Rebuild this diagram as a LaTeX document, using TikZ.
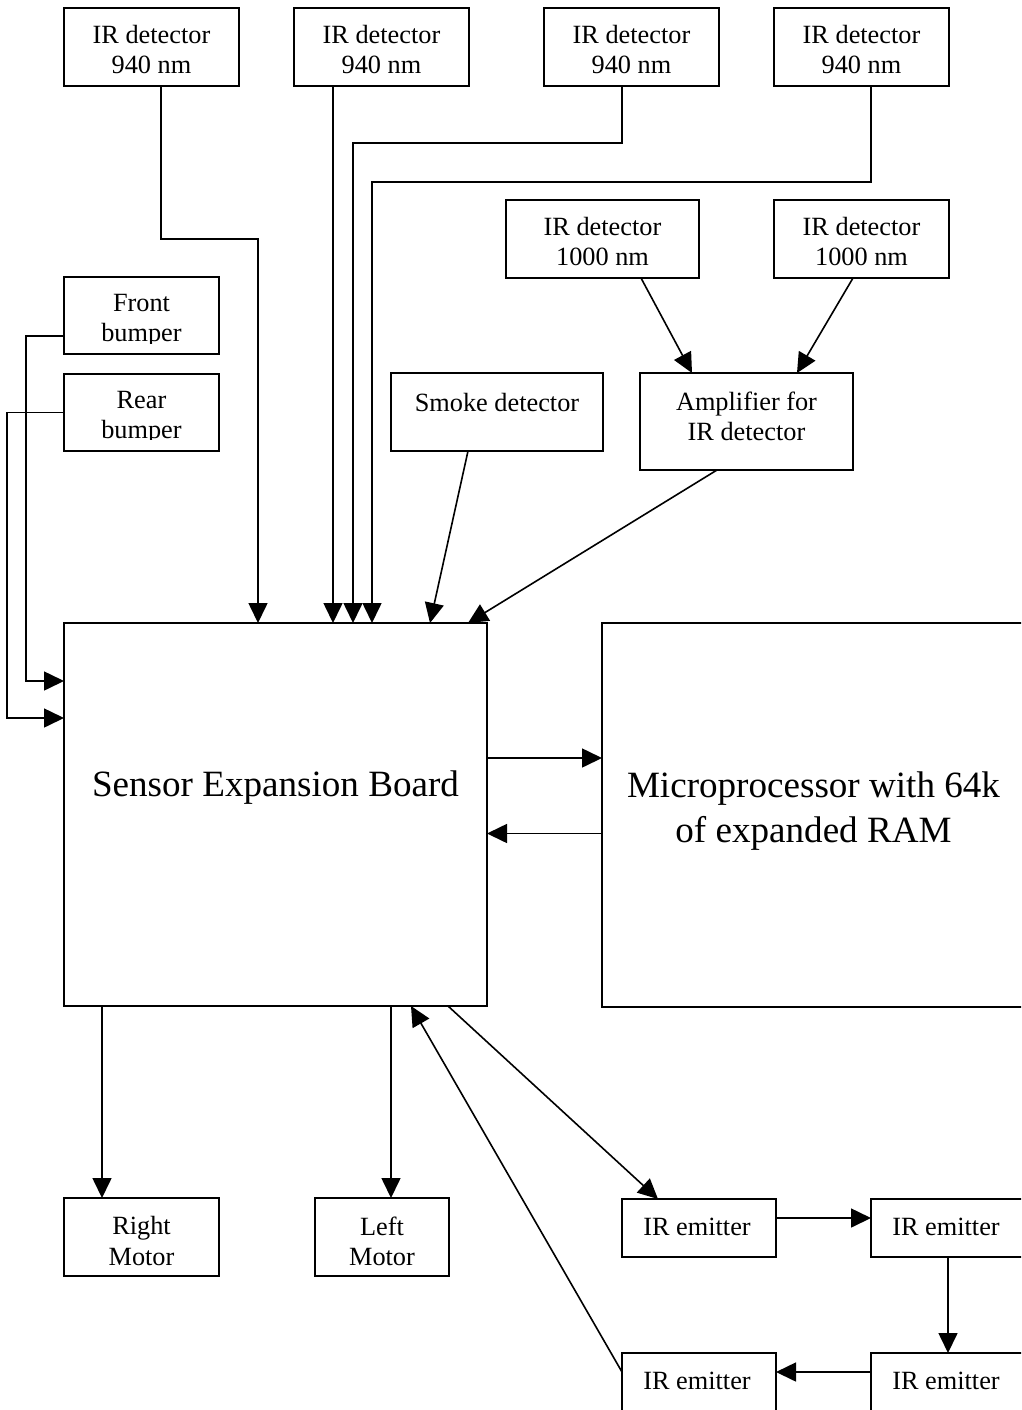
\documentclass[tikz,border=0pt]{standalone}
\usepackage{fontspec}
\setmainfont{Liberation Serif}
\usetikzlibrary{arrows.meta,calc}
\tikzset{
  box/.style={draw, line width=1.6pt, inner sep=0pt, outer sep=0pt, anchor=center},
  txt/.style={align=center, inner sep=0pt, outer sep=0pt, font=\fontsize{26.3}{30.2}\selectfont},
  bigtxt/.style={align=center, inner sep=0pt, outer sep=0pt, font=\fontsize{37.1}{45}\selectfont},
  arr/.style={line width=1.6pt, -{Triangle[length=20pt,width=19pt]}},
}
\begin{document}
\begin{tikzpicture}[x=1pt,y=-1pt]
\clip (0,0) rectangle (1021,1410);
\fill[white] (0,0) rectangle (1021,1410);
% top row IR detectors 940 nm
\node[box, minimum width=175pt, minimum height=78pt] (d1) at (151.5,47) {};
\node[box, minimum width=175pt, minimum height=78pt] (d2) at (381.5,47) {};
\node[box, minimum width=175pt, minimum height=78pt] (d3) at (631.5,47) {};
\node[box, minimum width=175pt, minimum height=78pt] (d4) at (861.5,47) {};
\node[txt] (d1t) at (151.5,49.5) {IR detector\\940 nm};
\node[txt] (d2t) at (381.5,49.5) {IR detector\\940 nm};
\node[txt] (d3t) at (631.5,49.5) {IR detector\\940 nm};
\node[txt] (d4t) at (861.5,49.5) {IR detector\\940 nm};
% IR detectors 1000 nm
\node[box, minimum width=193pt, minimum height=78pt] (da) at (602.5,239) {};
\node[box, minimum width=175pt, minimum height=78pt] (db) at (861.5,239) {};
\node[txt] (dat) at (602.5,241.5) {IR detector\\1000 nm};
\node[txt] (dbt) at (861.5,241.5) {IR detector\\1000 nm};
% bumpers
\node[box, minimum width=155pt, minimum height=77pt] (fb) at (141.5,315.5) {};
\node[box, minimum width=155pt, minimum height=77pt] (rb) at (141.5,412.5) {};
\begin{scope}
\clip (64,277) rectangle (219,343);
\node[txt] (fbt) at (141.5,321) {Front\\bumper};
\end{scope}
\begin{scope}
\clip (64,374) rectangle (219,439.5);
\node[txt] (rbt) at (141.5,418) {Rear\\bumper};
\end{scope}
% smoke and amplifier
\node[box, minimum width=212pt, minimum height=78pt] (sm) at (497,412) {};
\node[txt] (smt) at (497,402) {Smoke detector};
\node[box, minimum width=213pt, minimum height=97pt] (am) at (746.5,421.5) {};
\node[txt] (amt) at (746.5,416) {Amplifier for\\IR detector};
% board and microprocessor
\node[box, minimum width=423pt, minimum height=383pt] (sb) at (275.5,814.5) {};
\node[bigtxt] (sbt) at (275.5,788) {Sensor Expansion Board};
\node[box, minimum width=423pt, minimum height=384pt] (mp) at (813.5,815) {};
\node[bigtxt] (mpt) at (813.5,811) {Microprocessor with 64k\\of expanded RAM};
% motors
\node[box, minimum width=155pt, minimum height=78pt] (rm) at (141.5,1237) {};
\node[txt] (rmt) at (141.5,1241) {Right\\Motor};
\node[box, minimum width=134pt, minimum height=78pt] (lm) at (382,1237) {};
\node[txt] (lmt) at (382,1241) {Left\\Motor};
% emitters
\node[box, minimum width=154pt, minimum height=58pt] (e1) at (699,1228) {};
\node[box, minimum width=154pt, minimum height=58pt] (e2) at (948,1228) {};
\node[box, minimum width=154pt, minimum height=58pt] (e3) at (948,1382) {};
\node[box, minimum width=154pt, minimum height=58pt] (e4) at (699,1382) {};
\node[txt] (e1t) at (697,1227) {IR emitter};
\node[txt] (e2t) at (946,1227) {IR emitter};
\node[txt] (e3t) at (946,1381) {IR emitter};
\node[txt] (e4t) at (697,1381) {IR emitter};
% bend points
\coordinate (j1) at (258,239);
\coordinate (j3) at (353,143);
\coordinate (j4) at (372,182);
\coordinate (j5) at (26,681);
\coordinate (j6) at (7,718);
% connectors
\draw[arr] ([xshift=9.5pt]d1.south) |- (j1) -- (j1 |- sb.north);
\draw[arr] ([xshift=-48.5pt]d2.south) -- ([xshift=-48.5pt]d2.south |- sb.north);
\draw[arr] ([xshift=-9.5pt]d3.south) |- (j3) -- (j3 |- sb.north);
\draw[arr] ([xshift=9.5pt]d4.south) |- (j4) -- (j4 |- sb.north);
\draw[arr] ([yshift=-20.5pt]fb.west) -| (j5) -- (j5 -| sb.west);
\draw[arr] (rb.west) -| (j6) -- (j6 -| sb.west);
\draw[arr] ([xshift=-29pt]sm.south) -- ([xshift=154.5pt]sb.north);
\draw[arr] ([xshift=-29.5pt]am.south) -- ([xshift=192.5pt]sb.north);
\draw[arr] ([xshift=38.5pt]da.south) -- ([xshift=-54.5pt]am.north);
\draw[arr] ([xshift=-8.5pt]db.south) -- ([xshift=50.5pt]am.north);
\draw[arr] ([yshift=56.5pt]sb.east) -- ([yshift=56.5pt]sb.east -| mp.west);
\draw[arr] ([yshift=-18.5pt]mp.west) -- ([yshift=-18.5pt]mp.west -| sb.east);
\draw[arr] ([xshift=-173.5pt]sb.south) -- ([xshift=-173.5pt]sb.south |- rm.north);
\draw[arr] ([xshift=115.5pt]sb.south) -- ([xshift=115.5pt]sb.south |- lm.north);
\draw[arr] ([xshift=172.5pt]sb.south) -- ([xshift=-41pt]e1.north);
\draw[arr] ([yshift=10pt]e4.west) -- ([xshift=135.5pt]sb.south);
\draw[arr] ([yshift=10pt]e1.east) -- ([yshift=10pt]e1.east -| e2.west);
\draw[arr] (e2.south) -- (e3.north);
\draw[arr] ([yshift=10pt]e3.west) -- ([yshift=10pt]e3.west -| e4.east);
\end{tikzpicture}
\end{document}
